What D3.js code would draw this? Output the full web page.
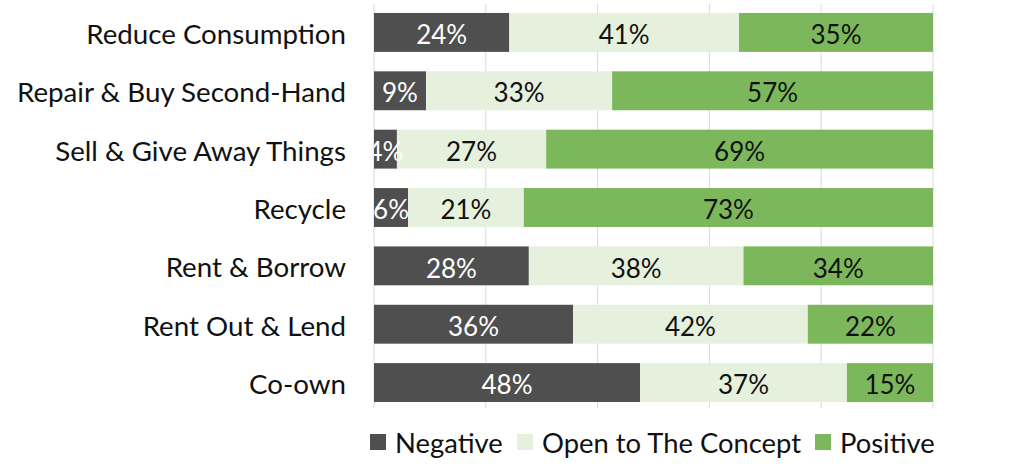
<!DOCTYPE html>
<html><head><meta charset="utf-8">
<script src="https://cdn.jsdelivr.net/npm/d3@7"></script>
<style>body{margin:0;background:#fff}svg{display:block}</style>
</head><body><svg id="c" width="1024" height="468"></svg>
<script>
const categories = ["Reduce Consumption","Repair & Buy Second-Hand","Sell & Give Away Things","Recycle","Rent & Borrow","Rent Out & Lend","Co-own"];
const negative = [24.2, 9.3, 4.1, 6.1, 27.7, 35.6, 47.6];
const openToConcept = [41.1, 33.3, 26.7, 20.7, 38.4, 42.0, 37.0];
const positive = [34.7, 57.4, 69.2, 73.2, 33.9, 22.4, 15.4];
const seriesNames = ["Negative","Open to The Concept","Positive"];
const seriesColors = ["#4f4f4f","#e5f0dd","#7db75b"];
const labelColors = ["#ffffff","#111111","#111111"];
const xTicks = [0,20,40,60,80,100];

const font = "Lato, 'Open Sans', sans-serif";
const svg = d3.select("#c");
const left = 374, right = 933;
const x = d3.scaleLinear().domain([0,100]).range([left,right]);
const y = d3.scaleBand().domain(categories).range([3.25,411.75]).paddingInner(1/3).paddingOuter(1/6);

// gridlines
svg.append("g").selectAll("line").data(xTicks).join("line")
  .attr("x1",d=>x(d)).attr("x2",d=>x(d)).attr("y1",4).attr("y2",408)
  .attr("stroke","#d9d9d9").attr("stroke-width",1);

const table = categories.map((c,i)=>({cat:c, vals:[negative[i],openToConcept[i],positive[i]]}));
const segs = [];
table.forEach(r=>{let acc=0; r.vals.forEach((v,k)=>{segs.push({cat:r.cat,k,v,x0:acc,x1:acc+v}); acc+=v;});});

svg.append("defs").append("clipPath").attr("id","clip").append("rect")
  .attr("x",left).attr("y",0).attr("width",right-left).attr("height",420);

const g = svg.append("g").attr("clip-path","url(#clip)");
g.selectAll("rect").data(segs).join("rect")
  .attr("x",d=>x(d.x0)).attr("width",d=>x(d.x1)-x(d.x0))
  .attr("y",d=>y(d.cat)).attr("height",y.bandwidth())
  .attr("fill",d=>seriesColors[d.k]);
g.selectAll("text").data(segs).join("text")
  .attr("x",d=>(x(d.x0)+x(d.x1))/2).attr("y",d=>y(d.cat)+y.bandwidth()/2)
  .attr("dy","0.45em").attr("text-anchor","middle")
  .attr("font-family",font).attr("font-size",26)
  .attr("fill",d=>labelColors[d.k]).text(d=>Math.round(d.v)+"%");

// category labels
svg.append("g").selectAll("text").data(categories).join("text")
  .attr("x",346).attr("y",d=>y(d)+y.bandwidth()/2).attr("dy","0.42em")
  .attr("text-anchor","end").attr("font-family",font).attr("font-size",27.7)
  .attr("fill","#111").text(d=>d);

// legend
const legX = [370, 517, 815];
const lg = svg.append("g").selectAll("g").data(seriesNames).join("g")
  .attr("transform",(d,i)=>`translate(${legX[i]},434)`);
lg.append("rect").attr("width",16).attr("height",16).attr("fill",(d,i)=>seriesColors[i]);
lg.append("text").attr("x",25).attr("y",19)
  .attr("font-family",font).attr("font-size",27.4).attr("fill","#111").text(d=>d);
</script></body></html>
